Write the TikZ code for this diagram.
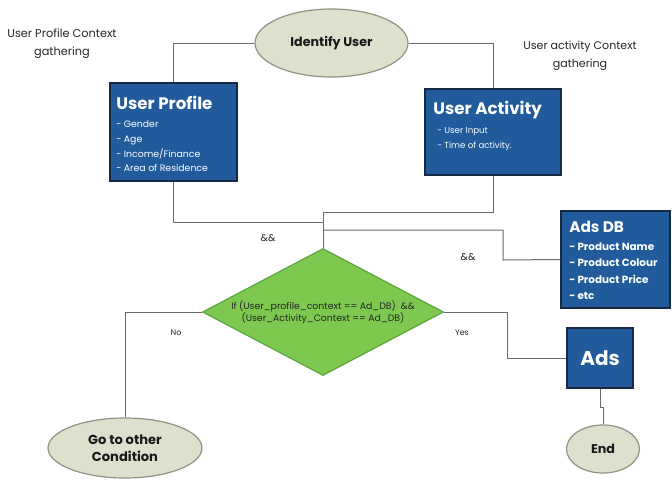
\documentclass[tikz,border=0pt]{standalone}
\usepackage{fontspec}
\setmainfont{Poppins}
\usetikzlibrary{shapes.geometric,positioning}

\definecolor{boxblue}{RGB}{33,91,155}
\definecolor{boxedge}{RGB}{24,42,66}
\definecolor{ovalfill}{RGB}{221,224,205}
\definecolor{ovaledge}{RGB}{140,148,130}
\definecolor{condgreen}{RGB}{126,200,80}
\definecolor{condedge}{RGB}{90,166,60}
\definecolor{wirecol}{RGB}{105,105,105}

\begin{document}
\begin{tikzpicture}[x=0.75pt,y=0.75pt,yscale=-1,xscale=1,
  bluebox/.style={draw=boxedge,fill=boxblue,line width=1.1pt,inner sep=0pt},
  oval/.style={ellipse,draw=ovaledge,fill=ovalfill,line width=0.9pt,inner sep=0pt,align=center,text=black!90},
  wire/.style={draw=wirecol,line width=0.75pt},
  boxtitle/.style={anchor=north west,inner sep=0pt,text=white,font=\bfseries\fontsize{12.5}{14}\selectfont},
  boxitems/.style={anchor=north west,inner sep=0pt,text=white,align=left},
  note/.style={inner sep=0pt,align=center,text=black!85}]
\useasboundingbox (0,0) rectangle (672,479);

% Ovals
\node[oval,minimum width=114.75pt,minimum height=51pt,font=\bfseries\fontsize{9.5}{11}\selectfont] (idu) at (331.5,43) {Identify User};
\node[oval,minimum width=115.5pt,minimum height=45pt,font=\bfseries\fontsize{9.8}{12.5}\selectfont] (other) at (125,448) {Go to other\\Condition};
\node[oval,minimum width=54.75pt,minimum height=36pt,font=\bfseries\fontsize{9.5}{11}\selectfont] (stop) at (603,449) {End};

% Blue boxes
\node[bluebox,minimum width=95.25pt,minimum height=73.5pt] (uprof) at (173.5,132) {};
\node[bluebox,minimum width=102pt,minimum height=64.5pt] (uact) at (493,132) {};
\node[bluebox,minimum width=81.75pt,minimum height=72.75pt] (adsdb) at (615.5,259.5) {};
\node[bluebox,minimum width=49.5pt,minimum height=45pt,text=white,font=\bfseries\fontsize{15}{17}\selectfont] (ads) at (600,358) {Ads};

% Box texts
\node[boxtitle] (uproft) at (116,96) {User Profile};
\node[boxitems,font=\fontsize{7}{11}\selectfont,below=8pt of uproft.south west,anchor=north west] (uprofi) {- Gender\\- Age\\- Income/Finance\\- Area of Residence};
\node[boxtitle] (uactt) at (433,101) {User Activity};
\node[boxitems,font=\fontsize{6.5}{11}\selectfont,below=6pt of uactt.south west,anchor=north west,xshift=3pt] (uacti) {- User Input\\- Time of activity.};
\node[boxtitle,font=\bfseries\fontsize{11.5}{13}\selectfont] (adsdbt) at (569,221) {Ads DB};
\node[boxitems,font=\bfseries\fontsize{7.8}{12.4}\selectfont,below=7pt of adsdbt.south west,anchor=north west] (adsdbi) {- Product Name\\- Product Colour\\- Product Price\\- etc};

% Decision
\node[diamond,shape aspect=1.9,draw=condedge,fill=condgreen,line width=0.9pt,inner sep=0pt,minimum width=180.75pt,minimum height=95.25pt,align=center,text=black!85,font=\fontsize{7}{9}\selectfont] (cond) at (323,312) {If (User\_profile\_context == Ad\_DB)\ \ \&\&\\(User\_Activity\_Context == Ad\_DB)};

% Text Node
\node[note,font=\fontsize{8.5}{13.5}\selectfont] (ctxprof) at (62,44) {User Profile Context\\gathering};
% Text Node
\node[note,font=\fontsize{8.3}{13.5}\selectfont] (ctxact) at (580,56) {User activity Context\\gathering};
% Text Node
\node[note,font=\fontsize{7.5}{9}\selectfont] (andl) at (268,238) {\&\&};
% Text Node
\node[note,font=\fontsize{7.5}{9}\selectfont] (andr) at (468,257) {\&\&};
% Text Node
\node[note,font=\fontsize{6}{7}\selectfont] (nol) at (176,333) {No};
% Text Node
\node[note,font=\fontsize{6}{7}\selectfont] (yesl) at (462,333) {Yes};

% Connectors
\coordinate (jact) at (323,212);
\coordinate (jprof) at (323,222);
\coordinate (jdb) at (323,230);
\coordinate (kdb) at (503,260);
\draw[wire] (idu.west) -| (uprof.north);
\draw[wire] (idu.east) -| (uact.north);
\draw[wire] (uprof.south) |- (jprof);
\draw[wire] (uact.south) |- (jact) -- (cond.north);
\draw[wire] (jdb) -| (kdb) -- (adsdb.west);
\draw[wire] (cond.west) -| (other.north);
\draw[wire] (cond.east) -- ++(63,0) |- (ads.west);
\draw[wire] (ads.south) -- ++(0,19) -| (stop.north);

\end{tikzpicture}
\end{document}
